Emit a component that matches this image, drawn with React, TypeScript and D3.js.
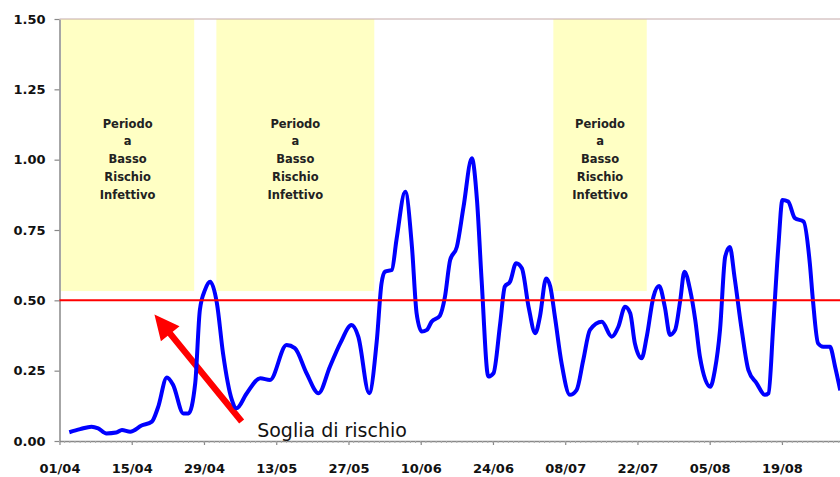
import * as d3 from "d3";
import { useEffect, useRef } from "react";

// days counted from 01/04
const days = [
  1.9, 4.0, 6.2, 7.5, 9.1, 11.0, 12.1, 13.7, 15.9, 17.9, 19.1, 20.8, 22.0, 24.0, 25.0, 26.3, 27.2, 28.2, 29.2, 30.5,
  31.7, 33.4, 34.3, 36.3, 38.9, 40.8, 44.0, 45.6, 47.9, 50.2, 52.4, 54.4, 56.6, 57.9, 60.0, 61.5, 62.4, 63.1, 64.4, 65.3,
  67.0, 68.3, 69.2, 70.2, 71.2, 72.1, 73.7, 74.7, 75.7, 77.0, 78.3, 79.9, 80.9, 81.8, 83.1, 84.1, 85.4, 86.3, 87.3, 88.5,
  89.6, 90.9, 92.2, 93.1, 94.3, 95.1, 96.0, 97.3, 98.9, 100.2, 101.5, 102.8, 105.1, 107.0, 108.3, 109.6, 110.6, 111.5, 112.8, 113.8,
  115.1, 116.2, 117.3, 118.3, 119.3, 120.3, 121.1, 122.2, 123.2, 124.1, 126.1, 127.0, 128.0, 129.0, 129.9, 130.8, 132.2, 133.5, 135.1, 136.7,
  137.4, 138.3, 139.3, 140.1, 141.2, 142.5, 144.2, 145.4, 146.0, 147.0, 148.0, 149.3, 150.3, 151.3,
];
const risk = [
  0.031, 0.042, 0.051, 0.045, 0.027, 0.03, 0.039, 0.033, 0.055, 0.069, 0.12, 0.226, 0.2, 0.098, 0.098, 0.205, 0.466, 0.537, 0.566, 0.49,
  0.31, 0.146, 0.116, 0.17, 0.223, 0.217, 0.341, 0.33, 0.24, 0.17, 0.264, 0.347, 0.412, 0.371, 0.17, 0.359, 0.56, 0.602, 0.608, 0.715,
  0.886, 0.69, 0.454, 0.389, 0.395, 0.424, 0.445, 0.513, 0.643, 0.69, 0.833, 1.005, 0.857, 0.572, 0.229, 0.241, 0.418, 0.549, 0.566, 0.632,
  0.614, 0.477, 0.383, 0.442, 0.578, 0.549, 0.442, 0.276, 0.164, 0.181, 0.288, 0.395, 0.424, 0.371, 0.406, 0.477, 0.454, 0.347, 0.294, 0.371,
  0.513, 0.551, 0.477, 0.377, 0.395, 0.501, 0.602, 0.537, 0.43, 0.3, 0.193, 0.252, 0.395, 0.655, 0.69, 0.584, 0.395, 0.252, 0.205, 0.164,
  0.17, 0.406, 0.69, 0.857, 0.851, 0.792, 0.78, 0.632, 0.501, 0.347, 0.335, 0.335, 0.264, 0.18,
];

const tickLabels = ["01/04", "15/04", "29/04", "13/05", "27/05", "10/06", "24/06", "08/07", "22/07", "05/08", "19/08"];
const yTicks = [0, 0.25, 0.5, 0.75, 1, 1.25, 1.5];

// low-risk periods (days from 01/04)
const periodStart = [0.3, 30.4, 95.7];
const periodEnd = [26.1, 61.0, 113.8];
const periodLines = ["Periodo", "a", "Basso", "Rischio", "Infettivo"];
const periodFloor = 0.533;

const threshold = 0.5;
const thresholdLabel = "Soglia di rischio";
const arrowFrom = [35.3, 0.069];
const arrowTo = [18.4, 0.45];
const labelAt = [38.3, 0.014];

const W = 840, H = 477;
const margin = { top: 19, left: 59.5, bottom: 36 };

const Chart = () => {
  const ref = useRef<SVGSVGElement | null>(null);

  useEffect(() => {
    if (!ref.current) return;
    const svg = d3.select(ref.current);
    svg.selectAll("*").remove();

    const x = d3.scaleLinear().domain([0, 151.25]).range([margin.left, W]);
    const y = d3.scaleLinear().domain([0, 1.5]).range([H - margin.bottom, margin.top]);

    // yellow boxes
    const boxes = svg.append("g");
    periodStart.forEach((s, i) => {
      const e = periodEnd[i];
      boxes.append("rect")
        .attr("x", x(s)).attr("y", y(1.5))
        .attr("width", x(e) - x(s)).attr("height", y(periodFloor) - y(1.5))
        .attr("fill", "#ffffc4");
      const t = boxes.append("text")
        .attr("text-anchor", "middle")
        .attr("font-family", "DejaVu Sans")
        .attr("font-weight", "bold")
        .attr("font-size", 11.5)
        .attr("fill", "#222");
      periodLines.forEach((l, j) => {
        t.append("tspan")
          .attr("x", (x(s) + x(e)) / 2)
          .attr("y", 127.5 + j * 17.8)
          .text(l);
      });
    });

    // arrow to threshold
    const [x0, y0] = [x(arrowFrom[0]), y(arrowFrom[1])];
    const [x1, y1] = [x(arrowTo[0]), y(arrowTo[1])];
    const len = Math.hypot(x1 - x0, y1 - y0);
    const ux = (x1 - x0) / len, uy = (y1 - y0) / len;
    const px = -uy, py = ux;
    const headLen = 25, headW = 12, shaft = 3.2;
    const bx = x1 - ux * headLen, by = y1 - uy * headLen;
    const pts = [
      [x0 + px * shaft, y0 + py * shaft],
      [bx + px * shaft, by + py * shaft],
      [bx + px * headW, by + py * headW],
      [x1, y1],
      [bx - px * headW, by - py * headW],
      [bx - px * shaft, by - py * shaft],
      [x0 - px * shaft, y0 - py * shaft],
    ];
    svg.append("polygon")
      .attr("points", pts.map(p => p.join(",")).join(" "))
      .attr("fill", "#ff0000");

    // axes
    const yAxis = svg.append("g")
      .attr("transform", `translate(${margin.left},0)`)
      .call(d3.axisLeft(y).tickValues(yTicks).tickFormat(d3.format(".2f")).tickSize(5).tickSizeOuter(0).tickPadding(9));
    const xAxis = svg.append("g")
      .attr("transform", `translate(0,${H - margin.bottom})`)
      .call(d3.axisBottom(x).tickValues(tickLabels.map((_, i) => i * 14))
        .tickFormat((_, i) => tickLabels[i]).tickSize(4).tickSizeOuter(0).tickPadding(19));

    // daily minor ticks
    svg.append("g")
      .selectAll("line")
      .data(d3.range(0, 152))
      .join("line")
      .attr("x1", d => x(d)).attr("x2", d => x(d))
      .attr("y1", H - margin.bottom).attr("y2", H - margin.bottom + 2)
      .attr("stroke", "#aaa").attr("stroke-width", 1);

    [yAxis, xAxis].forEach(a => {
      a.select(".domain").attr("stroke", "#888").attr("stroke-width", 1.5);
      a.selectAll(".tick line").attr("stroke", "#888").attr("stroke-width", 1.2);
      a.selectAll("text")
        .attr("font-family", "DejaVu Sans")
        .attr("font-weight", "bold")
        .attr("font-size", 13)
        .attr("fill", "#111");
    });

    // top border
    svg.append("line")
      .attr("x1", margin.left).attr("x2", W)
      .attr("y1", y(1.5)).attr("y2", y(1.5))
      .attr("stroke", "#c4aaaa").attr("stroke-width", 1);

    // series
    const line = d3.line<number>()
      .x((_, i) => x(days[i]))
      .y(d => y(d))
      .curve(d3.curveMonotoneX);
    svg.append("path")
      .datum(risk)
      .attr("d", line)
      .attr("fill", "none")
      .attr("stroke", "#0000ff")
      .attr("stroke-width", 4)
      .attr("stroke-linejoin", "round");

    // threshold
    svg.append("line")
      .attr("x1", margin.left).attr("x2", W)
      .attr("y1", y(threshold)).attr("y2", y(threshold))
      .attr("stroke", "#ff0000").attr("stroke-width", 2);

    svg.append("text")
      .attr("x", x(labelAt[0])).attr("y", y(labelAt[1]))
      .attr("font-family", "DejaVu Sans")
      .attr("font-size", 19)
      .attr("fill", "#111")
      .text(thresholdLabel);
  }, []);

  return <svg width={W} height={H} ref={ref} style={{ position: "absolute", left: 0, top: 0, background: "#fff" }} />;
};

export default function App() {
  return <Chart />;
}
